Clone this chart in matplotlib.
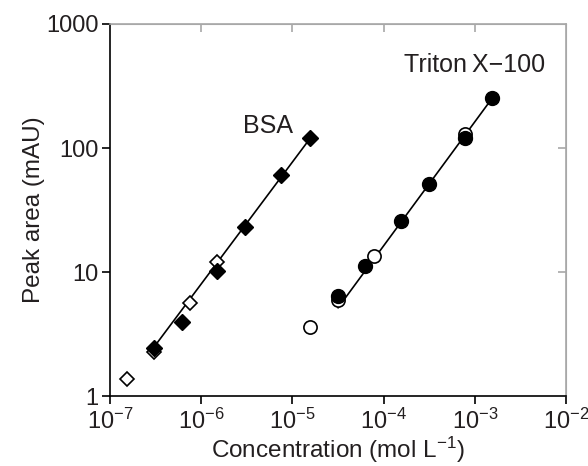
import numpy as np
import matplotlib
matplotlib.use("Agg")
import matplotlib.pyplot as plt
from matplotlib.ticker import FixedLocator, FixedFormatter, NullLocator

plt.rcParams['font.family'] = ['Liberation Sans', 'DejaVu Sans']
plt.rcParams['mathtext.fontset'] = 'custom'
plt.rcParams['mathtext.rm'] = 'Liberation Sans'
plt.rcParams['mathtext.it'] = 'Liberation Sans:italic'
plt.rcParams['mathtext.bf'] = 'Liberation Sans:bold'

txt = '#231f20'
grey = '#a8a8a8'

# BSA data
bsa_fill_x = [3.06e-7, 6.12e-7, 1.51e-6, 3.05e-6, 7.53e-6, 1.57e-5]
bsa_fill_y = [2.43, 3.93, 10.2, 23.2, 60.5, 120]
bsa_open_x = [1.52e-7, 3.06e-7, 7.55e-7, 1.51e-6]
bsa_open_y = [1.36, 2.25, 5.66, 12.0]
bsa_fit_x = [2.89e-7, 1.57e-5]
bsa_fit_y = [2.36, 120]

# Triton X-100 data
tri_fill_x = [3.17e-5, 6.29e-5, 1.55e-4, 3.12e-4, 7.75e-4, 1.55e-3]
tri_fill_y = [6.4, 11.2, 25.9, 51.3, 121, 252]
tri_open_x = [1.57e-5, 3.17e-5, 7.9e-5, 7.75e-4]
tri_open_y = [3.58, 5.94, 13.5, 129]
tri_fit_x = [3.17e-5, 1.55e-3]
tri_fit_y = [5.15, 252]

x_ticks = [1e-7, 1e-6, 1e-5, 1e-4, 1e-3, 1e-2]
x_labels = [r'$10^{-7}$', r'$10^{-6}$', r'$10^{-5}$', r'$10^{-4}$', r'$10^{-3}$', r'$10^{-2}$']
y_ticks = [1, 10, 100, 1000]
y_labels = ['1', '10', '100', '1000']

fig = plt.figure(figsize=(5.88, 4.66), dpi=100)
ax = fig.add_axes([0.187, 0.1502, 0.7756, 0.7983])

ax.plot(bsa_fit_x, bsa_fit_y, color='black', lw=1.2, zorder=1)
ax.plot(tri_fit_x, tri_fit_y, color='black', lw=1.2, zorder=1)

ax.plot(bsa_open_x, bsa_open_y, 'D', ms=7.5, mfc='white', mec='black', mew=1.2, ls='none', zorder=2)
ax.plot(bsa_fill_x, bsa_fill_y, 'D', ms=8, mfc='black', mec='black', ls='none', zorder=3)
ax.plot(tri_open_x, tri_open_y, 'o', ms=9.5, mfc='white', mec='black', mew=1.2, ls='none', zorder=2)
ax.plot(tri_fill_x, tri_fill_y, 'o', ms=10, mfc='black', mec='black', ls='none', zorder=3)

ax.set_xscale('log')
ax.set_yscale('log')
ax.set_xlim(1e-7, 1e-2)
ax.set_ylim(1, 1000)

ax.xaxis.set_major_locator(FixedLocator(x_ticks))
ax.xaxis.set_major_formatter(FixedFormatter(x_labels))
ax.yaxis.set_major_locator(FixedLocator(y_ticks))
ax.yaxis.set_major_formatter(FixedFormatter(y_labels))
ax.xaxis.set_minor_locator(NullLocator())
ax.yaxis.set_minor_locator(NullLocator())

ax.tick_params(axis='both', direction='out', length=6, width=1.2, colors='black',
               labelcolor=txt, labelsize=17)
ax.tick_params(axis='x', pad=3)
ax.tick_params(axis='y', pad=2)

# grey top/right frame with inward ticks
ax.spines['left'].set_linewidth(1.2)
ax.spines['bottom'].set_linewidth(1.2)
for s in ['top', 'right']:
    ax.spines[s].set_color(grey)
    ax.spines[s].set_linewidth(1.2)
sec_x = ax.secondary_xaxis('top')
sec_x.set_xticks(x_ticks[1:-1])
sec_x.xaxis.set_minor_locator(NullLocator())
sec_x.tick_params(direction='in', length=6, width=1.2, colors=grey, labeltop=False)
sec_x.spines['top'].set_color(grey)
sec_y = ax.secondary_yaxis('right')
sec_y.set_yticks(y_ticks[1:-1])
sec_y.yaxis.set_minor_locator(NullLocator())
sec_y.tick_params(direction='in', length=6, width=1.2, colors=grey, labelright=False)
sec_y.spines['right'].set_color(grey)

ax.set_xlabel(r'Concentration (mol L$^{-1}$)', fontsize=17.5, color=txt, labelpad=1)
ax.set_ylabel('Peak area (mAU)', fontsize=17.5, color=txt)
ax.yaxis.set_label_coords(-0.143, 0.5)

ax.text(5.42e-6, 151, 'BSA', fontsize=18, color=txt, ha='center', va='center')
ax.text(9.9e-4, 470, 'Triton\u2009X\u2212100', fontsize=18, color=txt, ha='center', va='center')

fig.savefig('out.png', dpi=100)
